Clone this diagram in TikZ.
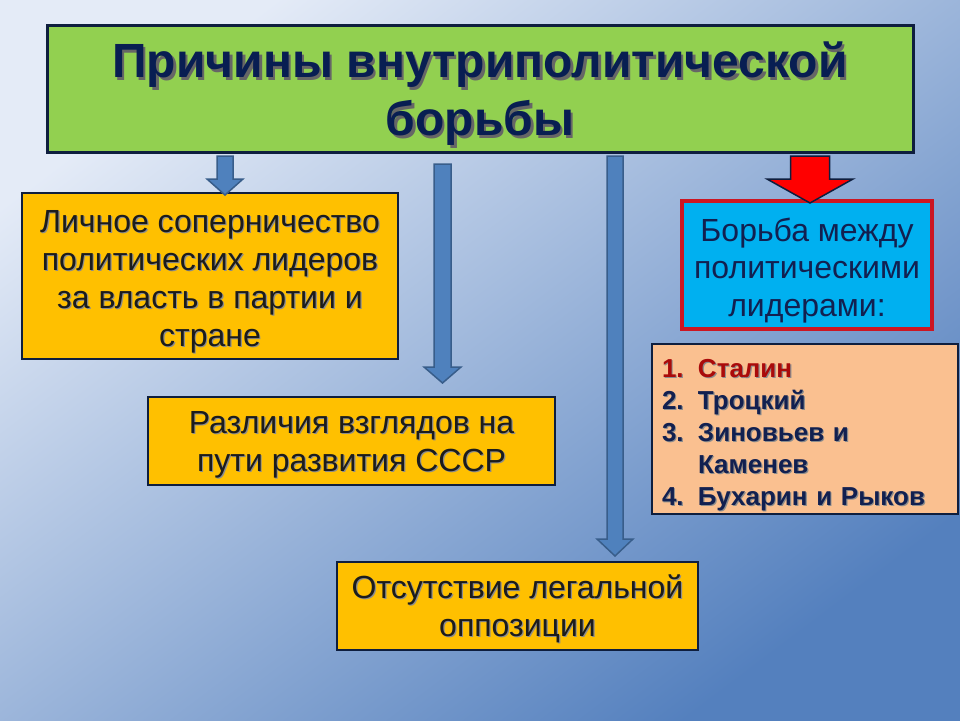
\documentclass[tikz,border=0pt]{standalone}
\usepackage{fontspec}
\setmainfont{Liberation Sans}

\definecolor{bgtop}{RGB}{228,235,247}
\definecolor{bgbottom}{RGB}{84,128,190}
\definecolor{navy}{RGB}{14,30,62}
\definecolor{titlegreen}{RGB}{146,208,80}
\definecolor{titlenavy}{RGB}{8,30,82}
\definecolor{boxorange}{RGB}{255,192,0}
\definecolor{boxtext}{RGB}{28,28,28}
\definecolor{skyblue}{RGB}{0,176,240}
\definecolor{borderred}{RGB}{204,22,34}
\definecolor{peach}{RGB}{250,192,144}
\definecolor{listnavy}{RGB}{18,32,80}
\definecolor{stalinred}{RGB}{170,10,10}
\definecolor{arrowblue}{RGB}{79,129,189}
\definecolor{arrowline}{RGB}{56,93,138}

\newcommand{\tshadow}[1]{\leavevmode\rlap{\kern2.5pt\raisebox{-2.5pt}{\color{black!60}#1}}#1}
\newcommand{\bshadow}[1]{\leavevmode\rlap{\kern1.2pt\raisebox{-1.2pt}{\color{black!45}#1}}#1}
\newcommand{\topstrut}[1]{\rule{0pt}{#1}}
\newcommand{\botstrut}[1]{\rule[-#1]{0pt}{0pt}}

\begin{document}
\begin{tikzpicture}[x=1pt, y=-1pt,
    box/.style={draw=navy, line width=2.5pt, fill=boxorange, text=boxtext, inner sep=0pt, align=center, font=\fontsize{32pt}{38pt}\selectfont},
    barrow/.style={draw=arrowline, line width=1.5pt, fill=arrowblue},
    redarrow/.style={draw=navy, line width=1.5pt, fill=red}]
    % фон
    \useasboundingbox (0,0) rectangle (960,720);
    \shade[top color=bgtop, bottom color=bgbottom, shading angle=37] (0,0) rectangle (960,720);

    % заголовок
    \node[draw=navy, line width=3pt, fill=titlegreen, minimum width=866pt, minimum height=127pt, inner sep=0pt, align=center, text=titlenavy, font=\bfseries\fontsize{48pt}{58pt}\selectfont] (title) at (480,88.5) {\topstrut{49pt}\tshadow{Причины внутриполитической}\\\tshadow{борьбы}\botstrut{12pt}};

    % причины
    \node[box, minimum width=376pt, minimum height=166pt] (rivalry) at (210,276) {\topstrut{36pt}\bshadow{Личное соперничество}\\\bshadow{политических лидеров}\\\bshadow{за власть в партии и}\\\bshadow{стране}\botstrut{10pt}};
    \node[box, minimum width=407pt, minimum height=88pt] (views) at (351.5,441) {\topstrut{32pt}\bshadow{Различия взглядов на}\\\bshadow{пути развития СССР}\botstrut{10pt}};
    \node[box, minimum width=361pt, minimum height=88pt] (opposition) at (517.5,606) {\topstrut{32pt}\bshadow{Отсутствие легальной}\\\bshadow{оппозиции}\botstrut{10pt}};

    % борьба лидеров
    \node[draw=borderred, line width=3.5pt, fill=skyblue, minimum width=250pt, minimum height=128pt, inner sep=0pt, align=center, text=listnavy, font=\fontsize{32pt}{37.5pt}\selectfont] (struggle) at (807,265) {\topstrut{37pt}Борьба между\\политическими\\лидерами:\botstrut{10pt}};
    \node[draw=navy, line width=2.5pt, fill=peach, minimum width=306pt, minimum height=170pt, inner sep=0pt, text width=286pt, align=left, text=listnavy, font=\bfseries\fontsize{26pt}{32pt}\selectfont] (leaders) at (805,429) {%
        \topstrut{32pt}{\color{stalinred}\bshadow{\makebox[36pt][l]{1.}Сталин}}\\
        \bshadow{\makebox[36pt][l]{2.}Троцкий}\\
        \bshadow{\makebox[36pt][l]{3.}Зиновьев и}\\
        \bshadow{\hspace*{36pt}Каменев}\\
        \bshadow{\makebox[36pt][l]{4.}Бухарин и Рыков}\botstrut{8pt}};

    % стрелки
    \draw[barrow] (217,156) -- (233,156) -- (233,179) -- (243,179) -- (225,195) -- (207,179) -- (217,179) -- cycle;
    \draw[barrow] (434,164) -- (451,164) -- (451,367) -- (461,367) -- (442.5,383) -- (424,367) -- (434,367) -- cycle;
    \draw[barrow] (607,156) -- (623,156) -- (623,539) -- (633,539) -- (615,556) -- (597,539) -- (607,539) -- cycle;
    \draw[redarrow] (790.5,156) -- (829.5,156) -- (829.5,179) -- (853,179) -- (810,203) -- (767,179) -- (790.5,179) -- cycle;
\end{tikzpicture}
\end{document}
